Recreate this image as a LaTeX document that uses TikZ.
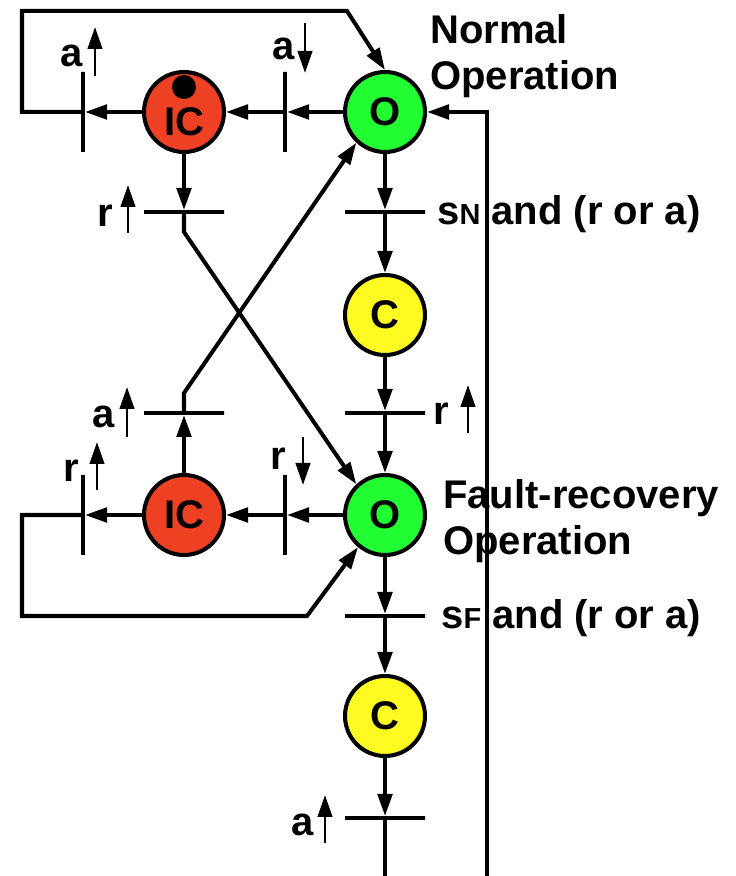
\documentclass[tikz,border=0pt]{standalone}
\usepackage{fontspec}
\setmainfont{Liberation Sans}
\usepackage{xcolor}
\usepackage{tikz}
\usetikzlibrary{arrows.meta}
\usetikzlibrary{positioning}

\definecolor{ogreen}{RGB}{33,255,51}
\definecolor{icred}{RGB}{238,65,36}
\definecolor{cyellow}{RGB}{255,250,33}
\newcommand{\subcap}[1]{{\fontsize{20.6}{20.6}\selectfont #1}}

\tikzset{
  onode/.style={circle, draw, fill=ogreen, line width=2.85pt, minimum size=2cm, inner sep=0pt},
  icnode/.style={onode, fill=icred},
  cnode/.style={onode, fill=cyellow},
  vbar/.style={draw, line width=2.85pt, minimum width=0pt, minimum height=2cm, inner sep=0pt},
  hbar/.style={draw, line width=2.85pt, minimum width=2cm, minimum height=0pt, inner sep=0pt},
  flow/.style={line width=2.85pt, -{Triangle[length=5.5mm,width=3.6mm]}},
  sig/.style={line width=2.1pt, -{Triangle[length=5.5mm,width=3.6mm]}},
  lbl/.style={anchor=base west, inner sep=0pt}
}

\begin{document}
\begin{tikzpicture}[font=\fontsize{28.45}{33.4}\selectfont\bfseries]
        \useasboundingbox (0,0) rectangle (18.4,21.9);

        % places
        \node[onode] (o1) at (9.625,19.1) {O};
        \node[icnode, text height=1.2cm, text depth=0pt] (ic1) at (4.6,19.1) {IC};
        \fill ([yshift=0.625cm]ic1.center) circle (0.3);
        \node[cnode] (c1) at (9.625,14.025) {C};
        \node[onode] (o2) at (9.625,9.025) {O};
        \node[icnode] (ic2) at (4.6,9.025) {IC};
        \node[cnode] (c2) at (9.625,4.0) {C};

        % transitions
        \node[vbar] (aup1) at (2.075,19.1) {};
        \node[vbar] (adown) at (7.125,19.1) {};
        \node[hbar] (rup1) at (4.6,16.6) {};
        \node[hbar] (sn) at (9.625,16.6) {};
        \node[hbar] (rup2) at (9.625,11.575) {};
        \node[hbar] (aup2) at (4.6,11.575) {};
        \node[vbar] (rdown) at (7.125,9.025) {};
        \node[vbar] (rup3) at (2.075,9.025) {};
        \node[hbar] (sf) at (9.625,6.5) {};
        \node[hbar] (aup3) at (9.625,1.45) {};

        \coordinate (tl1) at (0.55,19.1);
        \coordinate (tl2) at (8.675,21.625);
        \coordinate (x1) at (4.6,16.1);
        \coordinate (x2) at (4.6,12.075);
        \coordinate (bl1) at (0.55,9.025);
        \coordinate (bl2) at (7.675,6.5);
        \coordinate (bot) at (9.625,0);
        \coordinate (rbot) at (12.175,0);

        % arcs, normal operation
        \draw[flow] (o1) -- (adown);
        \draw[flow] (adown) -- (ic1);
        \draw[flow] (ic1) -- (aup1);
        \draw[flow] (aup1) -- (tl1) |- (tl2) -- (o1.north);
        \draw[flow] (ic1) -- (rup1);
        \draw[flow] (rup1) -- (x1) -- (o2.133);
        \draw[flow] (o1) -- (sn);
        \draw[flow] (sn) -- (c1);
        \draw[flow] (c1) -- (rup2);
        \draw[flow] (rup2) -- (o2);

        % arcs, fault-recovery operation
        \draw[flow] (o2) -- (rdown);
        \draw[flow] (rdown) -- (ic2);
        \draw[flow] (ic2) -- (rup3);
        \draw[flow] (rup3) -- (bl1) |- (bl2) -- (o2.230);
        \draw[flow] (ic2) -- (aup2);
        \draw[flow] (aup2) -- (x2) -- (o1.227);
        \draw[flow] (o2) -- (sf);
        \draw[flow] (sf) -- (c2);
        \draw[flow] (c2) -- (aup3);
        \draw[line width=2.85pt] (aup3) -- (bot);
        \draw[flow] (rbot) |- (o1);

        % guards
        \node[lbl] (la1) at (1.5,20.225) {a};
        \draw[sig] (2.375,20.0) -- (2.375,21.225);
        \node[lbl] (la2) at (6.8,20.4) {a};
        \draw[sig] (7.625,21.325) -- (7.625,20.075);
        \node[lbl] (lr1) at (2.425,16.225) {r};
        \draw[sig] (3.2,16.075) -- (3.2,17.275);
        \node[lbl] (la3) at (2.3,11.2) {a};
        \draw[sig] (3.175,10.975) -- (3.175,12.225);
        \node[lbl] (lr2) at (1.575,9.85) {r};
        \draw[sig] (2.425,9.65) -- (2.425,10.85);
        \node[lbl] (lr3) at (6.75,10.15) {r};
        \draw[sig] (7.575,10.975) -- (7.575,9.775);
        \node[lbl] (lr4) at (10.825,11.275) {r};
        \draw[sig] (11.7,11.075) -- (11.7,12.275);
        \node[lbl] (la4) at (7.275,1.025) {a};
        \draw[sig] (8.125,0.825) -- (8.125,2.025);

        \node[lbl] (lsn) at (10.925,16.275) {s\subcap{N} and (r or a)};
        \node[lbl] (lsf) at (11.025,6.175) {s\subcap{F} and (r or a)};
        \node[lbl, align=left] (normal) at (10.75,19.65) {Normal\\Operation};
        \node[lbl, align=left] (fault) at (11.075,8.025) {Fault-recovery\\Operation};
\end{tikzpicture}
\end{document}
